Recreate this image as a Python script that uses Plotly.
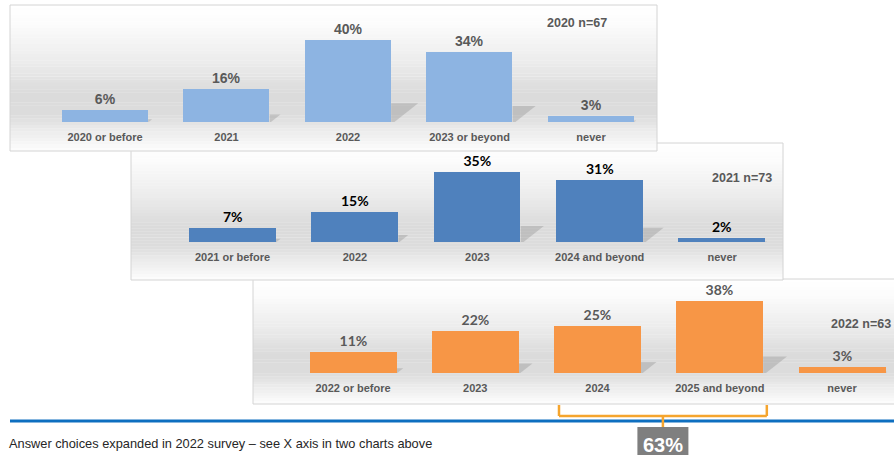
import plotly.graph_objects as go

W, H = 894, 455

# ---------------- data ----------------
cats_2020 = ["2020 or before", "2021", "2022", "2023 or beyond", "never"]
vals_2020 = [6, 16, 40, 34, 3]
cats_2021 = ["2021 or before", "2022", "2023", "2024 and beyond", "never"]
vals_2021 = [7, 15, 35, 31, 2]
cats_2022 = ["2022 or before", "2023", "2024", "2025 and beyond", "never"]
vals_2022 = [11, 22, 25, 38, 3]
notes = ["2020 n=67", "2021 n=73", "2022 n=63"]
bracket_cats = ["2024", "2025 and beyond"]
footnote = "Answer choices expanded in 2022 survey – see X axis in two charts above"

# ---------------- styles / layout ----------------
NARROW = "Liberation Sans Narrow, Arial Narrow, Liberation Sans, Arial, sans-serif"
LATO = "Lato, Calibri, Open Sans, sans-serif"
ARIAL = "Liberation Sans, Arial, sans-serif"
GRAY_TXT = "#595959"

panels = [
    dict(cats=cats_2020, vals=vals_2020, note=notes[0], box=(10, 5, 657, 151),
         c0=105, step=121.5, base=122, pxper=2.05, color="#8DB4E2",
         pct_color=GRAY_TXT, pct_font=NARROW, pct_size=14,
         note_pos=(577, 23), note_anchor="center"),
    dict(cats=cats_2021, vals=vals_2021, note=notes[1], box=(131, 143, 783, 280),
         c0=232.5, step=122.4, base=242, pxper=2.0, color="#4F81BD",
         pct_color="#000000", pct_font=LATO, pct_size=14,
         note_pos=(742, 178), note_anchor="center"),
    dict(cats=cats_2022, vals=vals_2022, note=notes[2], box=(253, 279, 905, 404),
         c0=353, step=122.25, base=373, pxper=1.9, color="#F79646",
         pct_color=GRAY_TXT, pct_font=LATO, pct_size=14,
         note_pos=(893, 324), note_anchor="right"),
]
BAR_W = 0.71


def px(x):
    return x / W


def py(y):
    return 1 - y / H


def grad_color(t):
    stops = [(0.0, 255), (0.12, 252), (0.4, 235), (0.6, 219), (0.75, 220),
             (0.88, 238), (1.0, 253)]
    for (t0, c0), (t1, c1) in zip(stops[:-1], stops[1:]):
        if t0 <= t <= t1:
            c = c0 + (c1 - c0) * (t - t0) / (t1 - t0)
            c = int(round(c))
            return f"rgb({c},{c},{c})"
    return "rgb(255,255,255)"


fig = go.Figure()
shapes = []
annotations = []
layout_axes = {}

# backgrounds: draw panel 3 first, then 2, then 1 (top-most)
for p in reversed(panels):
    x0, y0, x1, y1 = p["box"]
    n = 45
    for k in range(n):
        ya = y0 + (y1 - y0) * k / n
        yb = y0 + (y1 - y0) * (k + 1) / n
        shapes.append(dict(type="rect", xref="paper", yref="paper",
                           x0=px(x0), x1=px(x1), y0=py(yb) - 0.0005, y1=py(ya),
                           fillcolor=grad_color((k + 0.5) / n),
                           line=dict(width=0), layer="below"))
    shapes.append(dict(type="rect", xref="paper", yref="paper",
                       x0=px(x0), x1=px(x1), y0=py(y1), y1=py(y0),
                       fillcolor="rgba(0,0,0,0)",
                       line=dict(color="#D4D4D4", width=1), layer="below"))

for i, p in enumerate(panels, start=1):
    xa = "x" if i == 1 else f"x{i}"
    ya = "y" if i == 1 else f"y{i}"
    L = p["c0"] - p["step"] / 2
    R = min(p["c0"] + 4.5 * p["step"], W)
    xr = [-0.5, -0.5 + (R - L) / p["step"]]
    top = p["box"][1] + 2
    yr = [0, (p["base"] - top) / p["pxper"]]
    idx = list(range(len(p["cats"])))

    fig.add_trace(go.Bar(
        x=idx, y=p["vals"], width=BAR_W, xaxis=xa, yaxis=ya,
        marker=dict(color=p["color"], line=dict(width=0)),
        text=[f"{v}%" for v in p["vals"]], textposition="outside",
        textfont=dict(family=p["pct_font"], size=p["pct_size"],
                      color=p["pct_color"], weight="bold"),
        cliponaxis=False, constraintext="none", hoverinfo="skip",
        showlegend=False))

    axname_x = "xaxis" if i == 1 else f"xaxis{i}"
    axname_y = "yaxis" if i == 1 else f"yaxis{i}"
    layout_axes[axname_x] = dict(
        domain=[px(L), px(R)], range=xr, anchor=ya,
        tickmode="array", tickvals=idx, ticktext=p["cats"],
        tickfont=dict(family=NARROW, size=11, color=GRAY_TXT, weight="bold"),
        ticks="", showline=False, showgrid=False, zeroline=False,
        ticklabelstandoff=7, fixedrange=True)
    layout_axes[axname_y] = dict(
        domain=[py(p["base"]), py(top)], range=yr, anchor=xa,
        visible=False, showgrid=False, zeroline=False, fixedrange=True)

    # perspective shadows behind bars (derived from values)
    for j, v in enumerate(p["vals"]):
        xrgt = j + BAR_W / 2
        dx = 0.33 * v * p["pxper"] / p["step"]
        hy = 0.23 * v
        shapes.append(dict(
            type="path", xref=xa, yref=ya, layer="below",
            path=f"M {xrgt},0 L {xrgt},{hy} L {xrgt + dx},{hy} L {xrgt + dx * 0.12},0 Z",
            fillcolor="rgba(120,120,120,0.28)", line=dict(width=0)))

    nx, ny = p["note_pos"]
    annotations.append(dict(
        xref="paper", yref="paper", x=px(nx), y=py(ny), text=p["note"],
        showarrow=False, xanchor=p["note_anchor"], yanchor="middle",
        font=dict(family=NARROW, size=12.5, color=GRAY_TXT, weight="bold")))

# blue separator line
shapes.append(dict(type="line", xref="paper", yref="paper",
                   x0=px(10), x1=1.0, y0=py(421), y1=py(421),
                   line=dict(color="#0E6FC0", width=3), layer="above"))

# orange bracket over the last two "future" bars of 2022
p3 = panels[2]
j0 = p3["cats"].index(bracket_cats[0])
j1 = p3["cats"].index(bracket_cats[1])
bx0 = j0 - BAR_W / 2 + 0.04
bx1 = j1 + BAR_W / 2 + 0.03
ORANGE = "#F5A52E"
y_top, y_mid, y_bot = py(405), py(416), py(428)
for (xa0, ya0, xa1, ya1) in [(bx0, y_top, bx0, y_mid), (bx1, y_top, bx1, y_mid),
                             (bx0, y_mid, bx1, y_mid),
                             ((bx0 + bx1) / 2, y_mid, (bx0 + bx1) / 2, y_bot)]:
    shapes.append(dict(type="line", xref="x3", yref="paper", x0=xa0, x1=xa1,
                       y0=ya0, y1=ya1, line=dict(color=ORANGE, width=2.5),
                       layer="above"))

total = sum(p3["vals"][j] for j in (j0, j1))
bxc = (bx0 + bx1) / 2
shapes.append(dict(type="rect", xref="x3", yref="paper",
                   x0=bxc - 25.5 / p3["step"], x1=bxc + 25.5 / p3["step"],
                   y0=py(470), y1=py(427), fillcolor="#7F7F7F",
                   line=dict(width=0), layer="above"))
annotations.append(dict(xref="x3", yref="paper", x=bxc, y=py(432),
                        text=f"{total}%", showarrow=False, xanchor="center",
                        yanchor="top",
                        font=dict(family=NARROW, size=20, color="white",
                                  weight="bold")))

annotations.append(dict(xref="paper", yref="paper", x=px(7), y=py(443),
                        text=footnote, showarrow=False, xanchor="left",
                        yanchor="middle",
                        font=dict(family=ARIAL, size=12.8, color="#262626")))

fig.update_layout(
    width=W, height=H, autosize=False,
    margin=dict(l=0, r=0, t=0, b=0, pad=0),
    paper_bgcolor="white", plot_bgcolor="rgba(0,0,0,0)",
    shapes=shapes, annotations=annotations, bargap=0,
    showlegend=False, **layout_axes)

fig.write_html("out.html", config={"displayModeBar": False})
